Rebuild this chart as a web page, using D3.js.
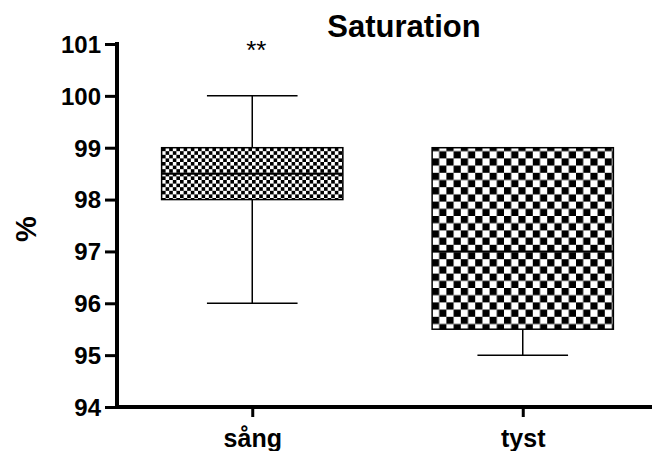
<!DOCTYPE html>
<html><head><meta charset="utf-8">
<script src="https://cdn.jsdelivr.net/npm/d3@7"></script>
<style>body{margin:0;background:#fff}svg{display:block}text{font-family:"Liberation Sans",Arial,sans-serif;font-weight:bold;fill:#000}</style>
</head><body><svg id="c" width="652" height="451"></svg>
<script>
const categories = ["sång", "tyst"];
const mins    = [96, 95];
const q1s     = [98, 95.5];
const medians = [98.5, 97];
const q3s     = [99, 99];
const maxs    = [100, 99];
const yTicks  = [94, 95, 96, 97, 98, 99, 100, 101];
const title = "Saturation";
const yLabel = "%";
const significance = ["**", ""];

const svg = d3.select("#c");
const defs = svg.append("defs");
function checker(id, cell){
  const p = defs.append("pattern").attr("id", id).attr("patternUnits","userSpaceOnUse")
    .attr("width", cell*2).attr("height", cell*2);
  p.append("rect").attr("width", cell*2).attr("height", cell*2).attr("fill","#fff");
  p.append("rect").attr("width", cell).attr("height", cell).attr("fill","#000");
  p.append("rect").attr("x", cell).attr("y", cell).attr("width", cell).attr("height", cell).attr("fill","#000");
}
checker("p0", 3.6);
checker("p1", 7.2);

const y = d3.scaleLinear().domain([94, 101]).range([407, 44]);
const x = d3.scalePoint().domain(categories).range([117, 658]).padding(0.5);
const boxW = x.step() * 0.67;

// boxes
categories.forEach((c, i) => {
  const cx = x(c);
  const g = svg.append("g");
  // whiskers
  if (maxs[i] > q3s[i]) {
    g.append("line").attr("x1", cx).attr("x2", cx).attr("y1", y(q3s[i])).attr("y2", y(maxs[i])).attr("stroke","#000").attr("stroke-width",1.5);
    g.append("line").attr("x1", cx - boxW/4).attr("x2", cx + boxW/4).attr("y1", y(maxs[i])).attr("y2", y(maxs[i])).attr("stroke","#000").attr("stroke-width",1.5);
  }
  if (mins[i] < q1s[i]) {
    g.append("line").attr("x1", cx).attr("x2", cx).attr("y1", y(q1s[i])).attr("y2", y(mins[i])).attr("stroke","#000").attr("stroke-width",1.5);
    g.append("line").attr("x1", cx - boxW/4).attr("x2", cx + boxW/4).attr("y1", y(mins[i])).attr("y2", y(mins[i])).attr("stroke","#000").attr("stroke-width",1.5);
  }
  g.append("rect").attr("x", cx - boxW/2).attr("width", boxW)
    .attr("y", y(q3s[i])).attr("height", y(q1s[i]) - y(q3s[i]))
    .attr("fill", `url(#p${i})`).attr("stroke","#000").attr("stroke-width",1.5);
  g.append("line").attr("x1", cx - boxW/2).attr("x2", cx + boxW/2).attr("y1", y(medians[i])).attr("y2", y(medians[i])).attr("stroke","#000").attr("stroke-width",2);
  if (significance[i]) {
    svg.append("text").attr("x", cx + 4).attr("y", 59).attr("text-anchor","middle")
      .style("font-size","26px").style("font-weight","normal").text(significance[i]);
  }
});

// y axis
const ya = svg.append("g").attr("transform","translate(117,0)")
  .call(d3.axisLeft(y).tickValues(yTicks).tickSize(12).tickPadding(4).tickFormat(d3.format("d")));
ya.select(".domain").attr("stroke-width",4).attr("d", `M0,${y(101)-2}V${y(94)+2}`);
ya.selectAll(".tick line").attr("stroke-width",3);
ya.selectAll(".tick text").style("font-size","24px").attr("dy","0.35em");

// x axis
const xa = svg.append("g").attr("transform",`translate(0,${y(94)})`)
  .call(d3.axisBottom(x).tickSize(10).tickPadding(12));
xa.select(".domain").attr("stroke-width",4).attr("d", `M115,0H652`);
xa.selectAll(".tick line").attr("stroke-width",3);
xa.selectAll(".tick text").style("font-size","25px").attr("dy","0.72em");

svg.append("text").attr("x", 404).attr("y", 37).attr("text-anchor","middle").style("font-size","31px").text(title);
svg.append("text").attr("transform","translate(36,229) rotate(-90)").attr("text-anchor","middle").style("font-size","29px").text(yLabel);
</script></body></html>
